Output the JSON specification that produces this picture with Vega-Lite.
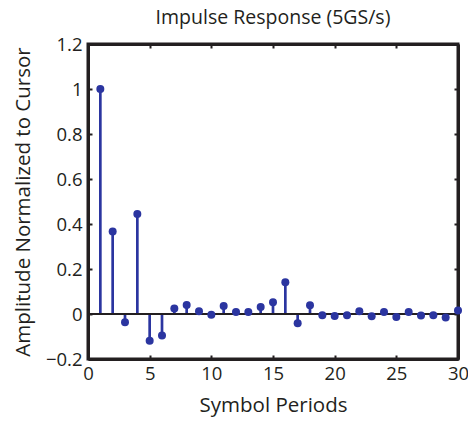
{
  "$schema": "https://vega.github.io/schema/vega-lite/v6.json",
  "autosize": "none",
  "width": 370,
  "height": 315,
  "padding": {"left": 88, "top": 44, "right": 10, "bottom": 62},
  "background": "white",
  "title": {"text": "Impulse Response (5GS/s)", "font": "Open Sans", "fontSize": 19.5, "fontWeight": "normal", "color": "#231F20", "offset": 7, "anchor": "middle"},
  "config": {
    "view": {"stroke": "#231F20", "strokeWidth": 3},
    "axis": {"labelFont": "Open Sans", "titleFont": "Open Sans", "labelFontSize": 18.5, "titleFontSize": 20.5, "titleFontWeight": "normal", "labelColor": "#231F20", "titleColor": "#231F20", "grid": false, "domainColor": "#231F20", "domainWidth": 3, "tickColor": "#231F20", "tickWidth": 2, "tickSize": -4, "labelFlush": false, "labelOverlap": false}
  },
  "data": {"values": [
    {"n": 1, "a": 1.0}, {"n": 2, "a": 0.367}, {"n": 3, "a": -0.037}, {"n": 4, "a": 0.444},
    {"n": 5, "a": -0.119}, {"n": 6, "a": -0.096}, {"n": 7, "a": 0.024}, {"n": 8, "a": 0.04},
    {"n": 9, "a": 0.012}, {"n": 10, "a": -0.003}, {"n": 11, "a": 0.036}, {"n": 12, "a": 0.009},
    {"n": 13, "a": 0.009}, {"n": 14, "a": 0.031}, {"n": 15, "a": 0.052}, {"n": 16, "a": 0.141},
    {"n": 17, "a": -0.041}, {"n": 18, "a": 0.039}, {"n": 19, "a": -0.006}, {"n": 20, "a": -0.009},
    {"n": 21, "a": -0.006}, {"n": 22, "a": 0.012}, {"n": 23, "a": -0.01}, {"n": 24, "a": 0.009},
    {"n": 25, "a": -0.013}, {"n": 26, "a": 0.009}, {"n": 27, "a": -0.007}, {"n": 28, "a": -0.006},
    {"n": 29, "a": -0.015}, {"n": 30, "a": 0.016}
  ]},
  "resolve": {"axis": {"x": "independent", "y": "independent"}},
  "layer": [
    {
      "mark": {"type": "rule", "color": "#2B35A0", "strokeWidth": 2.7},
      "encoding": {
        "x": {"field": "n", "type": "quantitative", "scale": {"domain": [0, 30], "nice": false},
              "axis": {"orient": "bottom", "title": "Symbol Periods", "values": [0, 5, 10, 15, 20, 25, 30], "labelPadding": 9, "titlePadding": 13}},
        "y": {"field": "a", "type": "quantitative", "scale": {"domain": [-0.2, 1.2], "nice": false},
              "axis": {"orient": "left", "title": "Amplitude Normalized to Cursor", "values": [-0.2, 0, 0.2, 0.4, 0.6, 0.8, 1, 1.2], "format": ".1~f", "labelPadding": 10, "titlePadding": 12}},
        "y2": {"datum": 0}
      }
    },
    {
      "mark": {"type": "rule", "color": "#231F20", "strokeWidth": 2},
      "encoding": {
        "y": {"datum": 0, "type": "quantitative", "axis": null}
      }
    },
    {
      "mark": {"type": "point", "filled": true, "color": "#2B35A0", "size": 64, "opacity": 1},
      "encoding": {
        "x": {"field": "n", "type": "quantitative",
              "axis": {"orient": "top", "title": null, "labels": false, "values": [0, 5, 10, 15, 20, 25, 30]}},
        "y": {"field": "a", "type": "quantitative",
              "axis": {"orient": "right", "title": null, "labels": false, "values": [-0.2, 0, 0.2, 0.4, 0.6, 0.8, 1, 1.2]}}
      }
    }
  ]
}
